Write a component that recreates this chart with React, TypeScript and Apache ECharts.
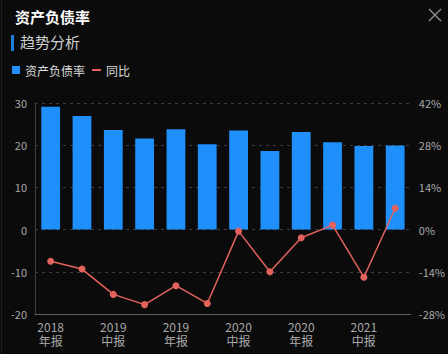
import React, { useEffect, useRef } from "react";
import * as echarts from "echarts";

const categories = [
  "2018\n年报", "2019\n一季报", "2019\n中报", "2019\n三季报", "2019\n年报", "2020\n一季报",
  "2020\n中报", "2020\n三季报", "2020\n年报", "2021\n一季报", "2021\n中报", "2021\n三季报",
];
const debtRatio = [29.1, 26.9, 23.6, 21.6, 23.8, 20.2, 23.5, 18.6, 23.1, 20.7, 19.8, 19.9];
const yoy = [-10.5, -13.1, -21.5, -24.9, -18.6, -24.5, -0.5, -14.0, -2.7, 1.5, -15.8, 7.1];

const FONT = "'Noto Sans CJK SC', 'Noto Sans', sans-serif";

export default function App() {
  const ref = useRef<HTMLDivElement>(null);
  useEffect(() => {
    if (!ref.current) return;
    const chart = echarts.init(ref.current, null, { renderer: "svg" });
    chart.setOption({
      animation: false,
      backgroundColor: "#0b0b0c",
      textStyle: { fontFamily: FONT },
      title: {
        text: "资产负债率",
        left: 10,
        top: 4,
        textStyle: { color: "#ffffff", fontSize: 15, fontWeight: "bold", fontFamily: FONT },
      },
      graphic: [
        { type: "line", shape: { x1: 1.5, y1: 0, x2: 1.5, y2: 354 }, style: { stroke: "#1c1d22", lineWidth: 1 } },
        { type: "rect", shape: { x: 11, y: 35, width: 3, height: 16 }, style: { fill: "#1e7fd8" } },
        {
          type: "text", left: 20, top: 34,
          style: { text: "趋势分析", fill: "#cfcfcf", fontSize: 15, fontFamily: FONT },
        },
        { type: "line", shape: { x1: 429, y1: 9, x2: 441, y2: 21 }, style: { stroke: "#8a8a8a", lineWidth: 1.5 } },
        { type: "line", shape: { x1: 441, y1: 9, x2: 429, y2: 21 }, style: { stroke: "#8a8a8a", lineWidth: 1.5 } },
      ],
      legend: [
        {
          data: ["资产负债率"],
          left: 7,
          top: 59,
          icon: "rect",
          itemWidth: 8,
          itemHeight: 8,
          itemGap: 6,
          textStyle: { color: "#dddddd", fontSize: 12, fontFamily: FONT },
        },
        {
          data: ["同比"],
          left: 87,
          top: 59,
          icon: "rect",
          itemWidth: 9,
          itemHeight: 2,
          textStyle: { color: "#dddddd", fontSize: 12, fontFamily: FONT },
        },
      ],
      grid: { left: 35, right: 36.5, top: 103, bottom: 40 },
      xAxis: {
        type: "category",
        data: categories,
        axisLine: { onZero: false, lineStyle: { color: "#5a5f66" } },
        axisTick: { show: false },
        axisLabel: { color: "#a8a8a8", fontSize: 12, interval: 1, lineHeight: 14, margin: 5, fontFamily: FONT },
      },
      yAxis: [
        {
          type: "value",
          min: -20,
          max: 30,
          interval: 10,
          axisLine: { show: true, lineStyle: { color: "#3d4148" } },
          axisTick: { show: false },
          axisLabel: { color: "#a8a8a8", fontSize: 11, margin: 8, fontFamily: FONT },
          splitLine: { lineStyle: { color: "#3a3d42", type: [3, 4] } },
        },
        {
          type: "value",
          min: -28,
          max: 42,
          interval: 14,
          axisLine: { show: false },
          axisTick: { show: false },
          axisLabel: { color: "#a8a8a8", fontSize: 11, margin: 8, formatter: "{value}%", fontFamily: FONT },
          splitLine: { show: false },
        },
      ],
      series: [
        {
          name: "资产负债率",
          type: "bar",
          data: debtRatio,
          barWidth: "60%",
          itemStyle: { color: "#1e8ffb" },
        },
        {
          name: "同比",
          type: "line",
          yAxisIndex: 1,
          data: yoy,
          symbol: "circle",
          symbolSize: 7,
          itemStyle: { color: "#e4625c" },
          lineStyle: { color: "#e4625c", width: 1.5 },
        },
      ],
    });
    return () => chart.dispose();
  }, []);
  return (
    <div
      ref={ref}
      style={{ position: "absolute", left: 0, top: 0, width: 448, height: 354 }}
    />
  );
}
